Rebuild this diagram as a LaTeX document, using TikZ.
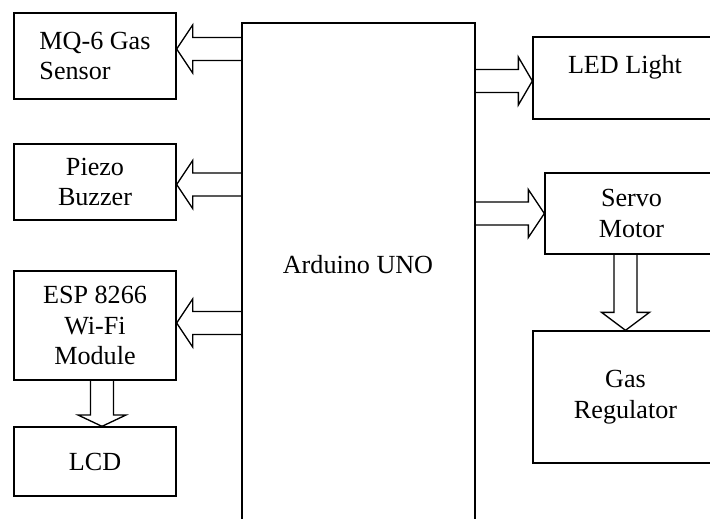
\documentclass[tikz,border=0pt]{standalone}
\usepackage{fontspec}
\setmainfont{Liberation Serif}
\usetikzlibrary{calc,positioning}

\tikzset{
  blocco/.style={draw, line width=1pt, minimum width=121.5pt, inner sep=0pt,
    font=\fontsize{19.6}{23}\selectfont, align=center},
  testo/.style={inner sep=0pt, font=\fontsize{19.6}{23}\selectfont},
  freccia/.style={draw, line width=1pt, line join=miter},
}

% freccia vuota: [lunghezza punta]{partenza}{punta}
\newcommand{\frecciona}[3][12pt]{%
  \coordinate (hb) at ($(#3)!#1!(#2)$);
  \draw[freccia] ($(#2)!8.6pt!90:(#3)$) -- ($(hb)!8.6pt!90:(#3)$)
    -- ($(hb)!18pt!90:(#3)$) -- (#3) -- ($(hb)!18pt!-90:(#3)$)
    -- ($(hb)!8.6pt!-90:(#3)$) -- ($(#2)!8.6pt!-90:(#3)$);
}

\begin{document}
\begin{tikzpicture}[x=0.75pt, y=-0.75pt]
    \useasboundingbox (0,0) rectangle (710,518);
    \clip (0,0) rectangle (710,518);

    % blocco centrale
    \node[blocco, minimum width=174.75pt, minimum height=387.75pt] (uno) at (358.5,281.5) {};
    \node[testo] (unotxt) at (358,265) {Arduino UNO};

    % blocchi a sinistra
    \node[blocco, minimum height=64.5pt, align=left] (mq) at (95,56) {MQ-6 Gas\\Sensor};
    \node[blocco, minimum height=57pt] (piezo) at (95,182) {Piezo\\Buzzer};
    \node[blocco, minimum height=81.75pt] (esp) at (95,325.5) {ESP 8266\\Wi-Fi\\Module};
    \node[blocco, minimum height=51.75pt] (lcd) at (95,461.5) {LCD};

    % blocchi a destra
    \node[blocco, minimum width=138.75pt, minimum height=61.5pt] (led) at (625.5,78) {};
    \node[testo, anchor=base] (ledtxt) at (625,73) {LED Light};
    \node[blocco, minimum width=129.75pt, minimum height=60.75pt] (servo) at (631.5,213.5) {Servo\\Motor};
    \node[blocco, minimum width=138.75pt, minimum height=99pt] (reg) at (625.5,397) {Gas\\Regulator};

    % frecce
    \coordinate (mqtip) at ([yshift=5.25pt]mq.east);
    \coordinate (mqfrom) at (uno.west |- mqtip);
    \frecciona{mqfrom}{mqtip}

    \coordinate (piezotip) at ([yshift=-1.9pt]piezo.east);
    \coordinate (piezofrom) at (uno.west |- piezotip);
    \frecciona{piezofrom}{piezotip}

    \coordinate (esptip) at ([yshift=1.9pt]esp.east);
    \coordinate (espfrom) at (uno.west |- esptip);
    \frecciona{espfrom}{esptip}

    \coordinate (espout) at ([xshift=5.25pt]esp.south);
    \coordinate (lcdtip) at (espout |- lcd.north);
    \frecciona[8.5pt]{espout}{lcdtip}

    \coordinate (ledtip) at ([yshift=-2.25pt]led.west);
    \coordinate (ledfrom) at (uno.east |- ledtip);
    \frecciona[10.5pt]{ledfrom}{ledtip}

    \coordinate (servotip) at (servo.west);
    \coordinate (servofrom) at (uno.east |- servotip);
    \frecciona{servofrom}{servotip}

    \coordinate (regtip) at (reg.north);
    \coordinate (servoout) at (regtip |- servo.south);
    \frecciona[13.5pt]{servoout}{regtip}
\end{tikzpicture}
\end{document}
